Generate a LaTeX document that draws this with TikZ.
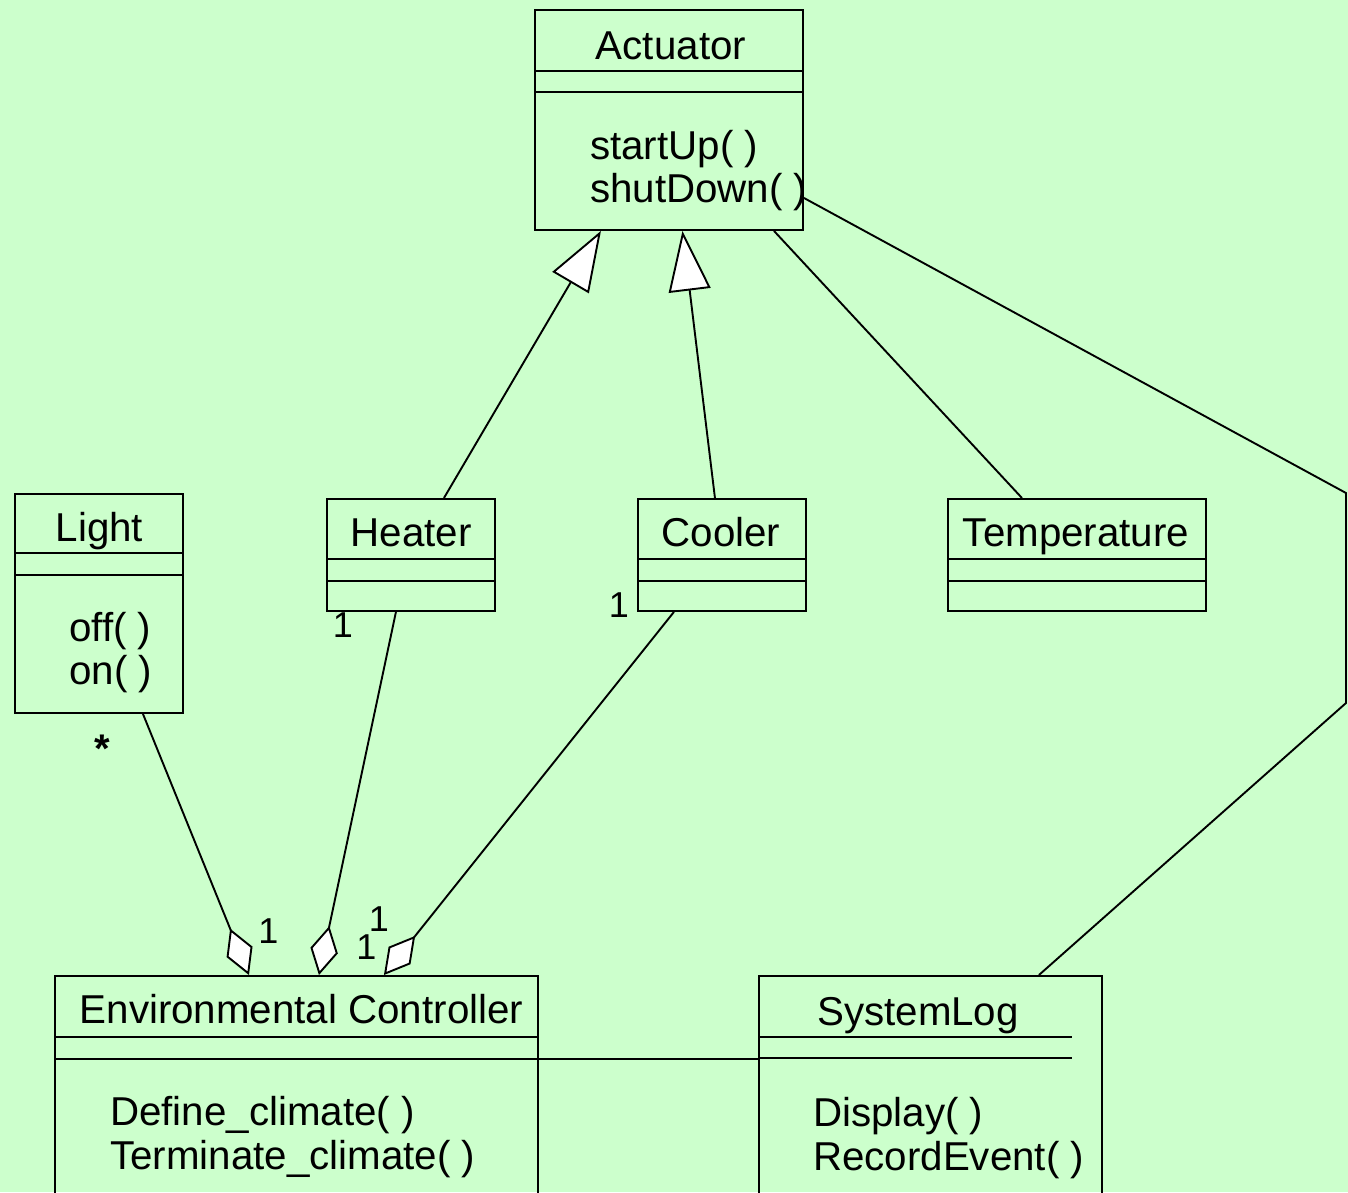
\documentclass[tikz,border=0pt]{standalone}
\usepackage{fontspec}
\setmainfont{Liberation Sans}
\usetikzlibrary{arrows.meta}
\definecolor{mint}{HTML}{CCFFCC}
\begin{document}
\begin{tikzpicture}[x=1pt,y=-1pt,
  classbox/.style={draw, line width=1.9pt, rectangle, inner sep=0pt, anchor=north west},
  ctext/.style={anchor=base, inner sep=0pt, font=\fontsize{40.3}{44}\selectfont},
  mtext/.style={anchor=base west, inner sep=0pt, font=\fontsize{40.3}{44}\selectfont},
  mult/.style={inner sep=0pt, font=\fontsize{36}{40}\selectfont},
  sep/.style={line width=1.9pt},
  link/.style={line width=1.9pt},
  gen/.style={link, -{Triangle[length=60pt, width=42pt, fill=white]}},
  agg/.style={link, -{Diamond[length=50pt, width=28pt, fill=white]}},
]
% canvas
\fill[mint] (0,0) rectangle (1348,1192);
\clip (0,0) rectangle (1348,1192);

% class boxes
\node[classbox, minimum width=268pt, minimum height=220pt] (act) at (534,9) {};
\node[classbox, minimum width=168pt, minimum height=219pt] (light) at (14,493) {};
\node[classbox, minimum width=168pt, minimum height=112pt] (heater) at (326,498) {};
\node[classbox, minimum width=168pt, minimum height=112pt] (cooler) at (637,498) {};
\node[classbox, minimum width=258pt, minimum height=112pt] (temp) at (947,498) {};
\node[classbox, minimum width=483pt, minimum height=260pt] (ec) at (54,975) {};
\node[classbox, minimum width=343pt, minimum height=260pt] (slog) at (758,975) {};

% compartment separators
\foreach \n/\a/\b in {act/61.7/83, light/60/82, heater/61/83, cooler/61/83, temp/61/83, ec/61.7/84}{
  \draw[sep] ([yshift=-\a pt]\n.north west) -- ([yshift=-\a pt]\n.north east);
  \draw[sep] ([yshift=-\b pt]\n.north west) -- ([yshift=-\b pt]\n.north east);
}
\draw[sep] ([yshift=-61.7pt]slog.north west) -- ([yshift=-61.7pt, xshift=314pt]slog.north west);
\draw[sep] ([yshift=-83.3pt]slog.north west) -- ([yshift=-83.3pt, xshift=314pt]slog.north west);

% class names and operations
\node[ctext] (act-t) at (671,59.3) {Actuator};
\node[mtext] (act-m1) at (590,159.3) {startUp( )};
\node[mtext] (act-m2) at (590,202.7) {shutDown( )};

\node[ctext] (light-t) at (99.5,541.7) {Light};
\node[mtext] (light-m1) at (69,641.7) {off( )};
\node[mtext] (light-m2) at (69,684) {on( )};

\node[ctext] (heater-t) at (411,546.7) {Heater};
\node[ctext] (cooler-t) at (721,546.7) {Cooler};
\node[ctext] (temp-t) at (1076,546.7) {Temperature};

\node[ctext] (ec-t) at (301.5,1023.3) {Environmental Controller};
\node[mtext] (ec-m1) at (110,1125) {Define\_climate( )};
\node[mtext] (ec-m2) at (110,1169.3) {Terminate\_climate( )};

\node[ctext] (slog-t) at (918,1025) {SystemLog};
\node[mtext] (slog-m1) at (813,1126) {Display( )};
\node[mtext] (slog-m2) at (813,1170) {RecordEvent( )};

% generalisations
\draw[gen] ([xshift=33pt]heater.north) -- ([xshift=-68pt]act.south);
\draw[gen] ([xshift=-7pt]cooler.north) -- ([xshift=13.5pt]act.south);

% associations
\draw[link] ([xshift=105pt]act.south) -- ([xshift=-55pt]temp.north);
\coordinate (bendA) at (1346,493);
\coordinate (bendB) at (1346,703);
\draw[link] ([yshift=-78pt]act.east) -- (bendA) -- (bendB) -- ([xshift=108.5pt]slog.north);
\draw[link] ([yshift=-84pt]ec.north east) -- ([yshift=-84pt]slog.north west);

% aggregations
\draw[agg] ([xshift=44pt]light.south) -- ([xshift=-47.5pt]ec.north);
\draw[agg] ([xshift=-15pt]heater.south) -- ([xshift=22.5pt]ec.north);
\draw[agg] ([xshift=-48pt]cooler.south) -- ([xshift=87.5pt]ec.north);

% multiplicities
\node[mult, anchor=base, font=\fontsize{40}{40}\bfseries] (m-star) at (102,762) {*};
\node[mult] (m-heater) at (343,625) {1};
\node[mult] (m-cooler) at (619,605) {1};
\node[mult] (m-ec1) at (268.5,931.5) {1};
\node[mult] (m-ec2) at (379,919.5) {1};
\node[mult] (m-ec3) at (366.5,947.5) {1};
\end{tikzpicture}
\end{document}
